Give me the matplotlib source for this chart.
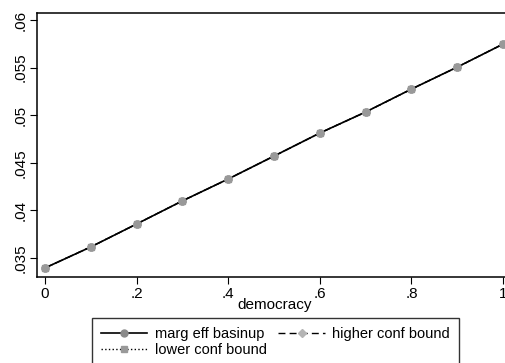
import matplotlib
matplotlib.use("Agg")
import matplotlib.pyplot as plt

# values
democracy = [0.0, 0.1, 0.2, 0.3, 0.4, 0.5, 0.6, 0.7, 0.8, 0.9, 1.0]
marg_eff = [0.03395, 0.03616, 0.03857, 0.0410, 0.0433, 0.04571,
            0.04813, 0.05034, 0.05275, 0.05506, 0.05748]
lower_bound = marg_eff
higher_bound = marg_eff

xticks = [0, 0.2, 0.4, 0.6, 0.8, 1.0]
xtick_labels = ["0", ".2", ".4", ".6", ".8", "1"]
yticks = [0.035, 0.04, 0.045, 0.05, 0.055, 0.06]
ytick_labels = [".035", ".04", ".045", ".05", ".055", ".06"]

plt.rcParams["font.family"] = ["Liberation Sans", "DejaVu Sans"]

fig = plt.figure(figsize=(5.05, 3.63), dpi=100)
ax = fig.add_axes([0.0733, 0.237, 0.9426, 0.727])

ax.plot(democracy, marg_eff, color="black", lw=1.2, marker="o", ms=5,
        mfc="#8a8a8a", mec="#8a8a8a", label="marg eff basinup")
ax.plot(democracy, lower_bound, color="black", lw=1.0, ls=":",
        marker="s", ms=4.5, mfc="#999999", mec="#999999", label="lower conf bound")
ax.plot(democracy, higher_bound, color="black", lw=1.0, ls=(0, (5, 3)),
        marker="D", ms=4, mfc="#b4b4b4", mec="#b4b4b4", label="higher conf bound")
# main markers end up on top, as in the reference
ax.plot(democracy, marg_eff, ls="none", marker="o", ms=5,
        mfc="#999999", mec="#999999")

ax.set_xlim(-0.0175, 1.0218)
ax.set_ylim(0.033, 0.06074)
ax.set_xticks(xticks)
ax.set_xticklabels(xtick_labels)
ax.set_yticks(yticks)
ax.set_yticklabels(ytick_labels, rotation=90, va="center")
ax.tick_params(direction="out", length=5, width=0.8, labelsize=11, pad=2)
for s in ax.spines.values():
    s.set_linewidth(1.1)
ax.set_xlabel("democracy", fontsize=11, labelpad=-2)

handles, labels = ax.get_legend_handles_labels()
leg = fig.legend(handles[:3], labels[:3],
                 loc="upper center", bbox_to_anchor=(0.545, 0.124), ncol=2,
                 fontsize=10.5, handlelength=3.2, frameon=True, fancybox=False,
                 borderpad=0.6, labelspacing=0.15, columnspacing=0.8,
                 handletextpad=0.5, borderaxespad=0)
leg.get_frame().set_edgecolor("black")
leg.get_frame().set_linewidth(1.0)

fig.savefig("out.png", dpi=100)
